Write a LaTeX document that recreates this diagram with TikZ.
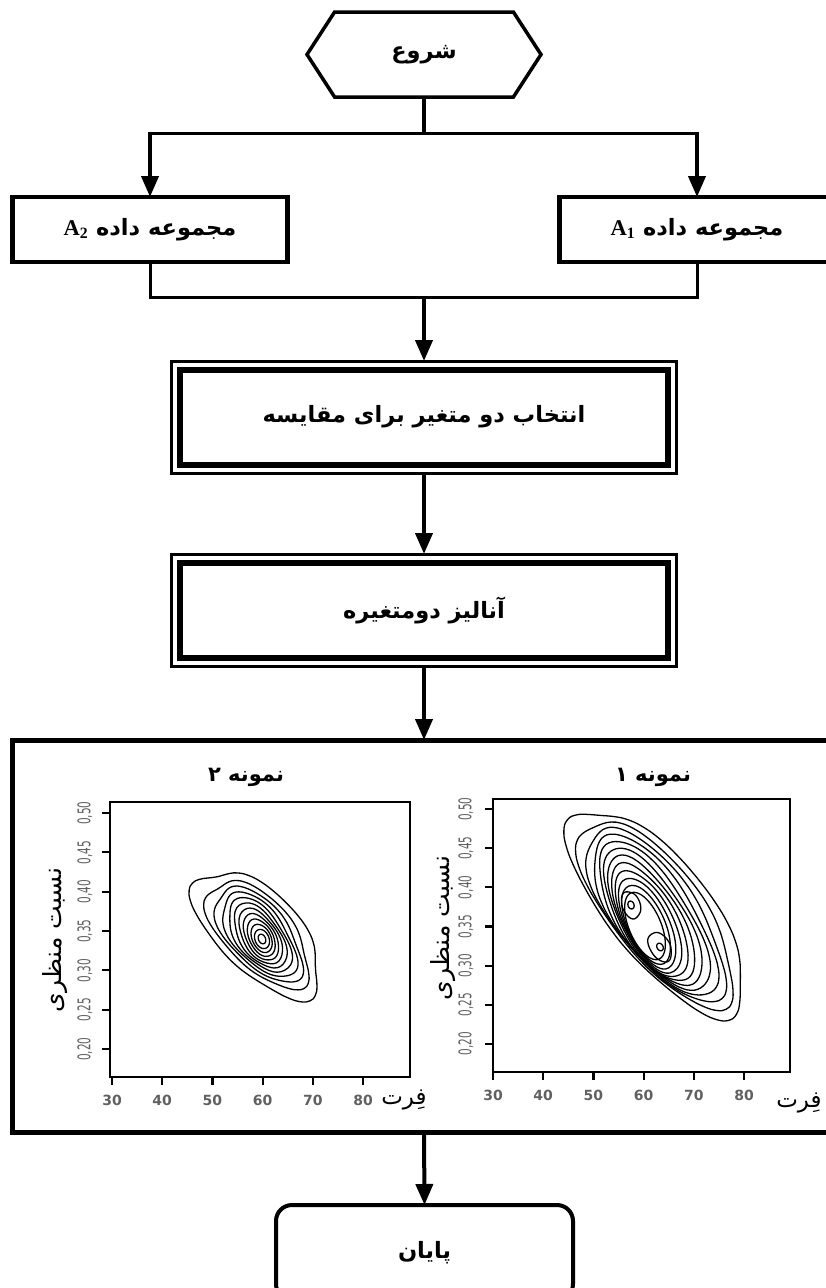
\documentclass[tikz,border=0pt]{standalone}
\usepackage{fontspec}
\usetikzlibrary{shapes.symbols,arrows.meta,fit}
\TeXXeTstate=1
\newfontfamily\fa[Script=Arabic]{DejaVu Sans}
\newfontfamily\lat{Liberation Serif}
\newfontfamily\tk{DejaVu Sans}
\definecolor{tickgray}{HTML}{606060}
\newcommand\ctr[7]{%
\draw[contour] plot[smooth cycle, samples=36, domain=0:350, variable=\q]
 ({#1+(1+#6*sin(3*\q+#7)+0.5*#6*sin(5*\q+2*#7))*((#3)*cos(#5)*cos(\q)-(#4)*sin(#5)*sin(\q))},
  {#2+(1+#6*sin(3*\q+#7)+0.5*#6*sin(5*\q+2*#7))*((#3)*sin(#5)*cos(\q)+(#4)*cos(#5)*sin(\q))});}
\tikzset{
 conn/.style={line width=3pt},
 arr/.style={line width=4pt, -{Triangle[length=21pt,width=17pt]}},
 hexa/.style={draw, line width=3.5pt, signal, signal to=east and west, signal pointer angle=114,
   minimum width=234pt, minimum height=85pt, outer sep=0pt},
 abox/.style={draw, line width=4.5pt, minimum width=275pt, minimum height=65pt, outer sep=0pt},
 inbox/.style={draw, line width=6pt, minimum width=488pt, minimum height=95pt, outer sep=0pt},
 outbox/.style={draw, line width=3pt, inner sep=8.5pt, outer sep=0pt},
 bigbox/.style={draw, line width=5pt, minimum width=824pt, minimum height=392pt, outer sep=0pt},
 endbox/.style={draw, line width=4pt, rounded corners=16pt, minimum width=297pt, minimum height=95pt, outer sep=0pt},
 fatxt/.style={font=\fa\bfseries\fontsize{22.5}{26}\selectfont},
 titletxt/.style={font=\fa\bfseries\fontsize{21}{24}\selectfont},
 axtxt/.style={font=\fa\fontsize{25}{28}\selectfont},
 xlabtxt/.style={font=\fa\fontsize{23}{26}\selectfont},
 xt/.style={font=\tk\bfseries\fontsize{14}{16}\selectfont, text=tickgray, inner sep=0pt},
 yt/.style={font=\tk\fontsize{17.5}{19}\selectfont, text=tickgray, inner sep=0pt, rotate=90},
 frame/.style={line width=2.2pt},
 tick/.style={line width=2.2pt},
 contour/.style={line width=1.3pt, line join=round},
}
\begin{document}
\begin{tikzpicture}[x=1pt,y=-1pt]
\useasboundingbox (0,0) rectangle (826,1288);
\clip (0,0) rectangle (826,1288);
\fill[white] (0,0) rectangle (826,1288);

% nodes
\node[hexa, fatxt] (start) at (424,54.5) {\beginR شروع\endR};
\node[abox, fatxt] (a2) at (150,229.5) {\beginR مجموعه داده \beginL{\lat\bfseries A\textsubscript{2}}\endL\endR};
\node[abox, fatxt] (a1) at (697,229.5) {\beginR مجموعه داده \beginL{\lat\bfseries A\textsubscript{1}}\endL\endR};
\node[inbox, fatxt] (sel) at (424,417) {\beginR انتخاب دو متغیر برای مقایسه\endR};
\node[outbox, fit=(sel)] (selo) {};
\node[inbox, fatxt] (ana) at (424,610) {\beginR آنالیز دومتغیره\endR};
\node[outbox, fit=(ana)] (anao) {};
\node[bigbox] (res) at (424,936) {};
\node[endbox, fatxt] (fin) at (424.5,1252.5) {\beginR پایان\endR};

\coordinate (j1) at (424,133);
\coordinate (j2) at (424,297);

% connectors
\draw[line width=4pt] (start.south) -- (j1);
\draw[conn] (j1) -- (150,133);
\draw[conn] (j1) -- (697,133);
\draw[arr] (150,131.5) -- (a2.north);
\draw[arr] (697,131.5) -- (a1.north);
\draw[conn] (a2.south) |- (j2);
\draw[conn] (a1.south) |- (j2);
\draw[arr] ([yshift=1.5pt]j2) -- (selo.north);
\draw[arr] (selo.south) -- (anao.north);
\draw[arr] (anao.south) -- (res.north);
\draw[arr] (res.south) -- (fin.north);

% ---------- left plot (sample 2)
\node[titletxt] (t2) at (246,777) {\beginR نمونه ۲\endR};
\draw[frame] (110,802) rectangle (410,1077);
\foreach \v in {30,40,50,60,70,80}{
  \pgfmathsetmacro\px{112+(\v-30)*5.02}
  \draw[tick] (\px,1077) -- (\px,1085);
  \node[xt] (lx\v) at (\px,1100) {\v};
}
\foreach \v in {20,25,30,35,40,45,50}{
  \pgfmathsetmacro\py{813+(50-\v)*7.867}
  \draw[tick] (110,\py) -- (102,\py);
  \node[yt] (ly\v) at (85,\py) {\scalebox{0.6}[1]{0,\v}};
}
\node[axtxt, rotate=90] (ylab2) at (55,940) {\beginR نسبت منظری\endR};
\node[xlabtxt] (xlab2) at (404,1100) {\beginR فِرت\endR};
\foreach \k in {0,...,10}{
  \pgfmathsetmacro\ff{\k/10}
  \pgfmathsetmacro\myX{258+4*\ff}
  \pgfmathsetmacro\myY{933+6*\ff}
  \pgfmathsetmacro\myA{80-70*pow(\ff,0.7)}
  \pgfmathsetmacro\myB{40-33*pow(\ff,0.7)}
  \pgfmathsetmacro\myP{45+22*\ff}
  \pgfmathsetmacro\myW{0.07*(1-\ff)}
  \ctr{\myX}{\myY}{\myA}{\myB}{\myP}{\myW}{35*\k+20}
}
\ctr{262}{939}{5}{3.5}{65}{0}{0}

% ---------- right plot (sample 1)
\node[titletxt] (t1) at (653,777) {\beginR نمونه ۱\endR};
\draw[frame] (493,799) rectangle (790,1072);
\foreach \v in {30,40,50,60,70,80}{
  \pgfmathsetmacro\px{493+(\v-30)*5.02}
  \draw[tick] (\px,1072) -- (\px,1080);
  \node[xt] (rx\v) at (\px,1095) {\v};
}
\foreach \v in {20,25,30,35,40,45,50}{
  \pgfmathsetmacro\py{809+(50-\v)*7.83}
  \draw[tick] (493,\py) -- (485,\py);
  \node[yt] (ry\v) at (466,\py) {\scalebox{0.6}[1]{0,\v}};
}
\node[axtxt, rotate=90] (ylab1) at (443,928) {\beginR نسبت منظری\endR};
\node[xlabtxt] (xlab1) at (799,1103) {\beginR فِرت\endR};
\foreach \k in {0,...,11}{
  \pgfmathsetmacro\ff{\k/11}
  \pgfmathsetmacro\myX{658-13*\ff}
  \pgfmathsetmacro\myY{911+15*\ff}
  \pgfmathsetmacro\myA{126-90*pow(\ff,0.8)}
  \pgfmathsetmacro\myB{50-34*pow(\ff,0.8)}
  \pgfmathsetmacro\myP{51+16*\ff}
  \pgfmathsetmacro\myW{0.05*(1-\ff)}
  \ctr{\myX}{\myY}{\myA}{\myB}{\myP}{\myW}{40*\k+10}
}
\ctr{631}{905}{14}{9}{70}{0.03}{0}
\ctr{660}{947}{16}{10}{60}{0.03}{60}
\ctr{631}{905}{4}{3}{70}{0}{0}
\ctr{660}{947}{4}{3}{60}{0}{0}
\end{tikzpicture}
\end{document}
